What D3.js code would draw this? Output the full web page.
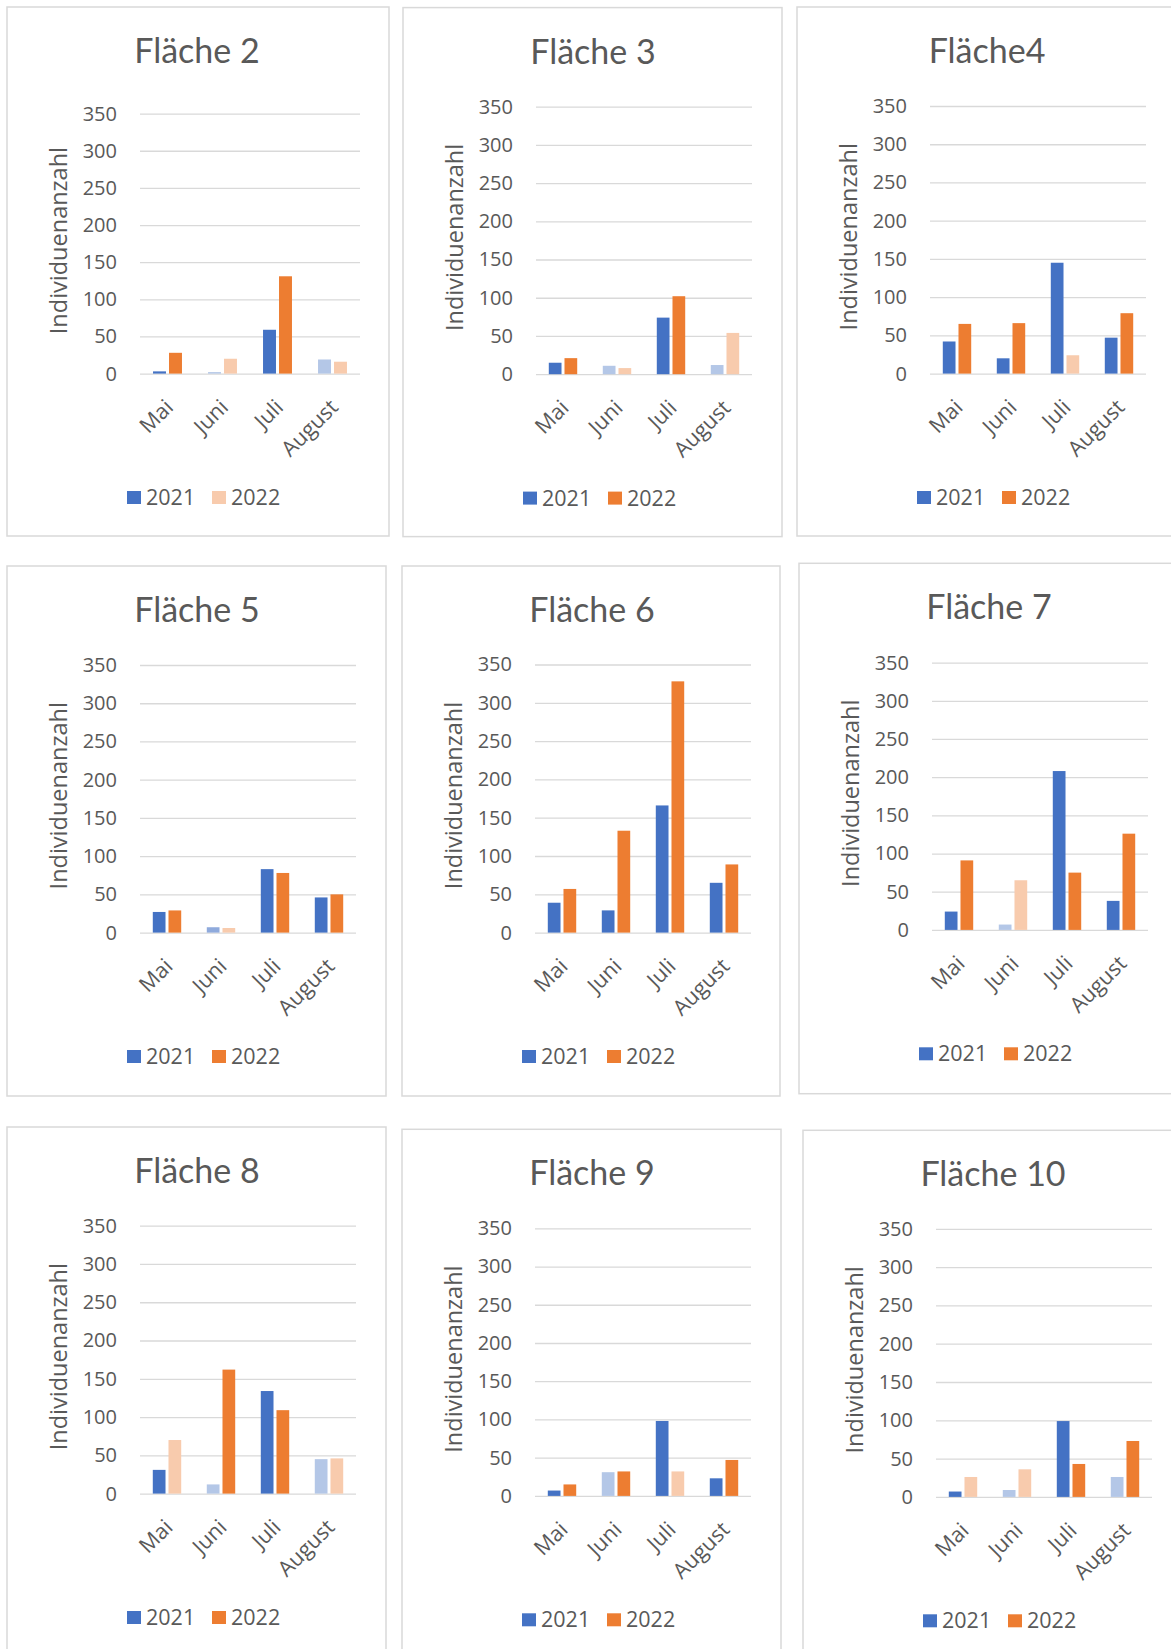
<!DOCTYPE html>
<html>
<head>
<meta charset="utf-8">
<script src="https://cdn.jsdelivr.net/npm/d3@7"></script>
<style>
  html, body { margin: 0; padding: 0; background: #ffffff; }
  svg { display: block; }
  text { font-family: "Open Sans", Lato, sans-serif; fill: #595959; }
</style>
</head>
<body>
<svg id="chart" width="1171" height="1649"></svg>
<script>
// ---------------- data ----------------
const months = ["Mai", "Juni", "Juli", "August"];
const years = ["2021", "2022"];
const titles = ["Fläche 2", "Fläche 3", "Fläche4", "Fläche 5", "Fläche 6", "Fläche 7", "Fläche 8", "Fläche 9", "Fläche 10"];
const yTicks = [0, 50, 100, 150, 200, 250, 300, 350];
const yAxisLabel = "Individuenanzahl";

const values2021 = [
  [3, 2, 59, 19],
  [15, 11, 74, 12],
  [42, 20, 145, 47],
  [27, 7, 83, 46],
  [39, 29, 166, 65],
  [24, 7, 208, 38],
  [31, 12, 134, 45],
  [7, 31, 98, 23],
  [7, 9, 99, 26]
];
const values2022 = [
  [28, 20, 131, 16],
  [21, 8, 102, 54],
  [65, 66, 24, 79],
  [29, 6, 78, 50],
  [57, 133, 328, 89],
  [91, 65, 75, 126],
  [70, 162, 109, 46],
  [15, 32, 32, 47],
  [26, 36, 43, 73]
];
// 0 = full colour, 1 = pale, 2 = half-pale
const shade2021 = [
  [0, 1, 0, 1],
  [0, 1, 0, 1],
  [0, 0, 0, 0],
  [0, 2, 0, 0],
  [0, 0, 0, 0],
  [0, 1, 0, 0],
  [0, 1, 0, 1],
  [0, 1, 0, 0],
  [0, 1, 0, 1]
];
const shade2022 = [
  [0, 1, 0, 1],
  [0, 1, 0, 1],
  [0, 0, 1, 0],
  [0, 1, 0, 0],
  [0, 0, 0, 0],
  [0, 1, 0, 0],
  [1, 0, 0, 1],
  [0, 0, 1, 0],
  [1, 1, 0, 0]
];
const legendShade2022 = [1, 0, 0, 0, 0, 0, 0, 0, 0];

// ---------------- layout / styles ----------------
const palette = {
  "2021": ["#4472C4", "#B4C7E7", "#8FAADC"],
  "2022": ["#ED7D31", "#F8CBAD", "#F4B183"]
};
const panelLayout = [
  { x: 7,   y: 7,      w: 382, h: 529, plotTop: 106.6, plotW: 220 },
  { x: 403, y: 7.6,    w: 379, h: 529, plotTop: 99,    plotW: 216 },
  { x: 797, y: 7,      w: 390, h: 529, plotTop: 99,    plotW: 216 },
  { x: 7,   y: 566,    w: 379, h: 530, plotTop: 99,    plotW: 216 },
  { x: 402, y: 566,    w: 378, h: 530, plotTop: 98.5,  plotW: 216 },
  { x: 799, y: 563.3,  w: 390, h: 530.4, plotTop: 99.3, plotW: 216 },
  { x: 7,   y: 1127,   w: 379, h: 540, plotTop: 98.7,  plotW: 216 },
  { x: 402, y: 1129.3, w: 379, h: 540, plotTop: 99,    plotW: 216 },
  { x: 803, y: 1130.3, w: 390, h: 540, plotTop: 98.5,  plotW: 216 }
];
const PLOT_BOTTOM = 366.6;   // offset from panel top
const PLOT_LEFT = 133;       // offset from panel left
const TITLE_CX = 189;
const gridColor = "#d9d9d9";
const FONT = "'Open Sans', Lato, sans-serif";

const svg = d3.select("#chart");
svg.append("rect").attr("width", 1171).attr("height", 1649).attr("fill", "#ffffff");

titles.forEach((title, i) => {
  const L = panelLayout[i];
  const g = svg.append("g").attr("transform", `translate(${L.x},${L.y})`);

  // panel frame
  g.append("rect")
    .attr("x", 0).attr("y", 0).attr("width", L.w).attr("height", L.h)
    .attr("fill", "#ffffff").attr("stroke", gridColor).attr("stroke-width", 1.5);

  // title
  g.append("text")
    .attr("x", TITLE_CX + 1).attr("y", 56)
    .attr("text-anchor", "middle")
    .style("font-family", "Lato, 'Open Sans', sans-serif")
    .style("font-size", "34px")
    .text(title);

  const x = d3.scaleBand().domain(months).range([PLOT_LEFT, PLOT_LEFT + L.plotW]).padding(0);
  const xs = d3.scaleBand().domain(years).range([0, x.bandwidth()]).paddingInner(0.19).paddingOuter(0.815);
  const y = d3.scaleLinear().domain([0, 350]).range([PLOT_BOTTOM, L.plotTop]);

  // y axis with gridlines
  const yAxis = d3.axisLeft(y).tickValues(yTicks).tickSize(-L.plotW).tickPadding(23);
  const ya = g.append("g").attr("transform", `translate(${PLOT_LEFT},0)`).call(yAxis);
  ya.select(".domain").remove();
  ya.selectAll(".tick line").attr("stroke", gridColor).attr("stroke-width", 1.3);
  ya.selectAll(".tick text").attr("fill", "#595959").style("font-size", "20px")
    .style("font-family", FONT);

  // y axis title
  g.append("text")
    .attr("transform", `translate(60,${(PLOT_BOTTOM + L.plotTop) / 2 - 3}) rotate(-90)`)
    .attr("text-anchor", "middle")
    .style("font-size", "23.5px")
    .text(yAxisLabel);

  // bars
  const rows = months.map((m, j) => ({
    month: m,
    items: [
      { year: "2021", value: values2021[i][j], shade: shade2021[i][j] },
      { year: "2022", value: values2022[i][j], shade: shade2022[i][j] }
    ]
  }));
  const grp = g.append("g").selectAll("g").data(rows).join("g")
    .attr("transform", d => `translate(${x(d.month)},0)`);
  grp.selectAll("rect").data(d => d.items).join("rect")
    .attr("x", d => xs(d.year))
    .attr("width", xs.bandwidth())
    .attr("y", d => y(d.value))
    .attr("height", d => y(0) - y(d.value))
    .attr("fill", d => palette[d.year][d.shade]);

  // x axis labels (rotated)
  const xAxis = d3.axisBottom(x).tickSize(0).tickPadding(0);
  const xa = g.append("g").attr("transform", `translate(0,${PLOT_BOTTOM})`).call(xAxis);
  xa.select(".domain").remove();
  xa.selectAll(".tick text")
    .attr("fill", "#595959")
    .style("font-size", "21.5px")
    .style("font-family", FONT)
    .attr("text-anchor", "end")
    .attr("dy", null)
    .attr("y", 0)
    .attr("transform", "translate(7,35) rotate(-45)");

  // legend
  const lx0 = TITLE_CX - 69;
  const legendItems = [
    { year: "2021", shade: 0, dx: 0 },
    { year: "2022", shade: legendShade2022[i], dx: 85 }
  ];
  const lg = g.append("g").attr("transform", `translate(${lx0},484)`);
  const li = lg.selectAll("g").data(legendItems).join("g")
    .attr("transform", d => `translate(${d.dx},0)`);
  li.append("rect").attr("x", 0).attr("y", 0).attr("width", 14).attr("height", 13)
    .attr("fill", d => palette[d.year][d.shade]);
  li.append("text").attr("x", 19).attr("y", 14)
    .style("font-size", "21.5px")
    .text(d => d.year);
});
</script>
</body>
</html>
